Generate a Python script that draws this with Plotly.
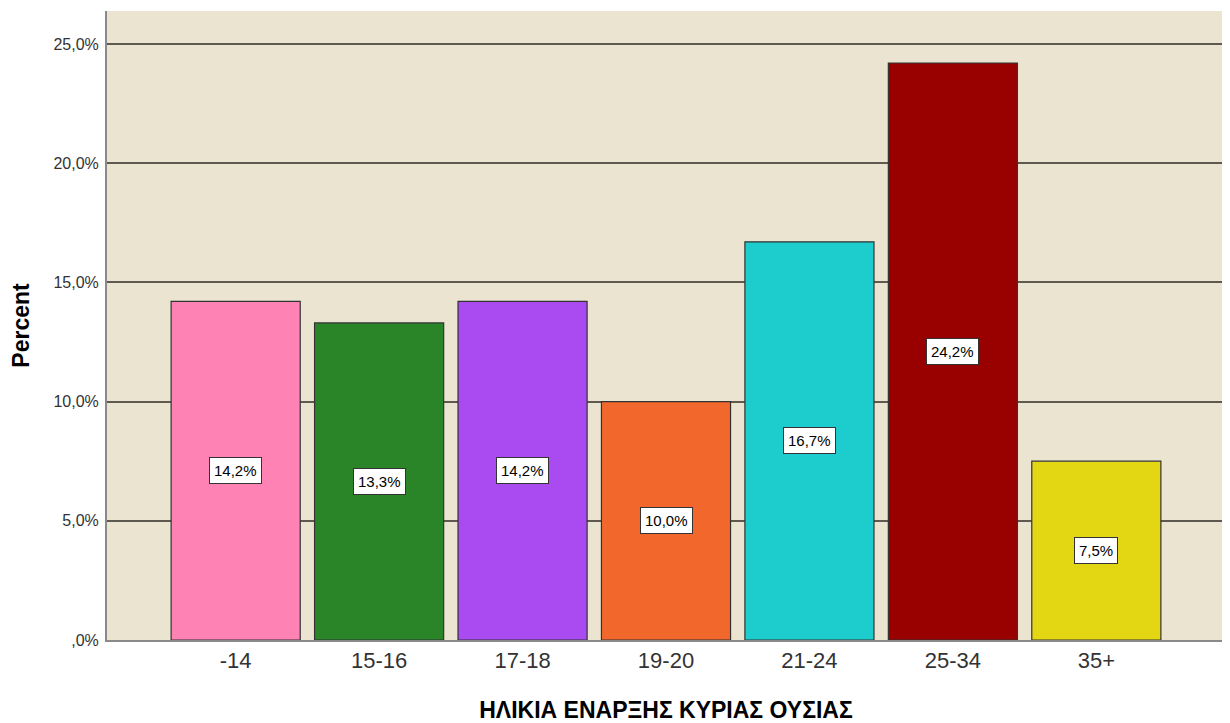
import plotly.graph_objects as go

categories = ["-14", "15-16", "17-18", "19-20", "21-24", "25-34", "35+"]
percent_values = [14.2, 13.3, 14.2, 10.0, 16.7, 24.2, 7.5]
bar_colors = ["#FF82B4", "#2A8529", "#A94BF1", "#F2682C", "#1DCDCD", "#990000", "#E3D612"]
y_tick_values = [0, 5, 10, 15, 20, 25]
y_tick_labels = [",0%", "5,0%", "10,0%", "15,0%", "20,0%", "25,0%"]

def fmt(v):
    return f"{v:.1f}".replace(".", ",") + "%"

fig = go.Figure()
fig.add_trace(go.Bar(
    x=list(range(len(categories))),
    y=percent_values,
    width=0.9,
    marker=dict(color=bar_colors, line=dict(color="#333333", width=1.2)),
    hoverinfo="skip",
))

for i, v in enumerate(percent_values):
    fig.add_annotation(
        x=i, y=v / 2, text=fmt(v), showarrow=False,
        font=dict(family="Liberation Sans, Arial", size=15, color="#000000"),
        bgcolor="#FFFFFF", bordercolor="#333333", borderwidth=1, borderpad=4,
    )

fig.update_layout(
    width=1222, height=715,
    margin=dict(l=99, r=5, t=3, b=83),
    paper_bgcolor="#FFFFFF",
    plot_bgcolor="#EAE4D0",
    showlegend=False,
    xaxis=dict(
        range=[-0.897, 6.897],
        tickmode="array",
        tickvals=list(range(len(categories))),
        ticktext=categories,
        tickfont=dict(family="Liberation Sans, Arial", size=22, color="#333333"),
        showgrid=False,
        showline=True, linecolor="#8a8a8a", linewidth=2,
        ticks="", zeroline=False,
        title=dict(text="<b>ΗΛΙΚΙΑ ΕΝΑΡΞΗΣ ΚΥΡΙΑΣ ΟΥΣΙΑΣ</b>",
                   font=dict(family="Liberation Sans, Arial", size=23, color="#000000"),
                   standoff=29),
    ),
    yaxis=dict(
        range=[0, 26.38],
        tickmode="array",
        tickvals=y_tick_values,
        ticktext=y_tick_labels,
        tickfont=dict(family="Liberation Sans, Arial", size=16, color="#333333"),
        ticklabelstandoff=3,
        showgrid=True, gridcolor="#5E5A50", gridwidth=2,
        showline=True, linecolor="#8a8a8a", linewidth=2,
        ticks="", zeroline=False,
        title=dict(text="<b>Percent</b>",
                   font=dict(family="Liberation Sans, Arial", size=23, color="#000000"),
                   standoff=18),
    ),
)

fig.write_html("out.html")
